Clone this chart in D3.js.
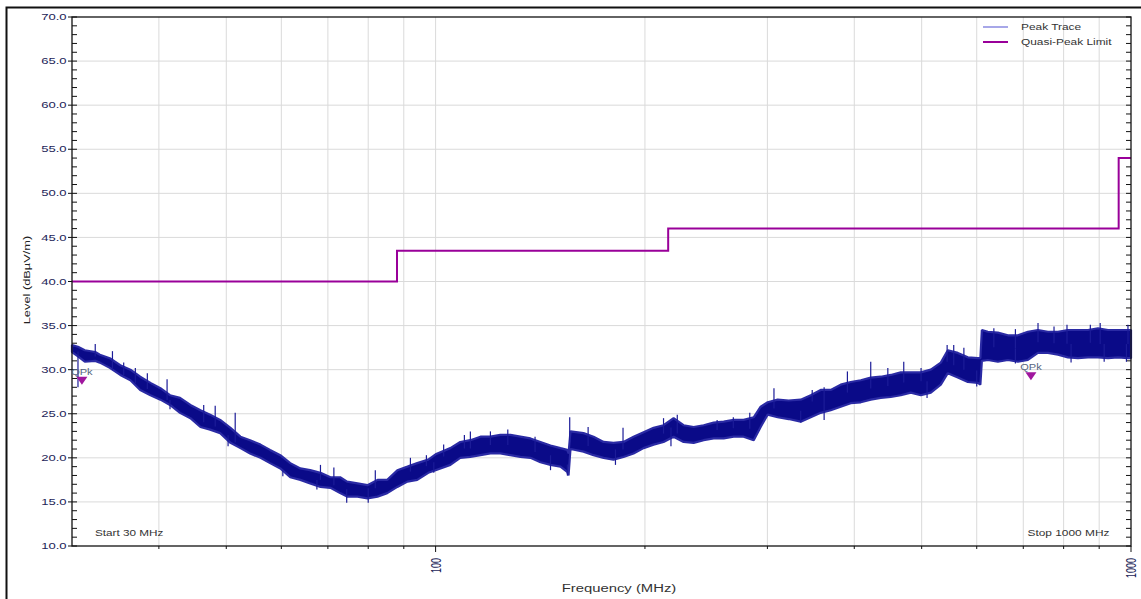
<!DOCTYPE html>
<html><head><meta charset="utf-8">
<script src="https://cdn.jsdelivr.net/npm/d3@7"></script>
<style>html,body{margin:0;padding:0;background:#fff;}svg{display:block;}</style>
</head><body>
<svg id="chart" width="1141" height="599"></svg>
<script>
// ---------- data ----------
const yTicks = [10,15,20,25,30,35,40,45,50,55,60,65,70];
const xGridFreqs = [40,50,60,70,80,90,100,200,300,400,500,600,700,800,900,1000];
const xLabelFreqs = [100,1000];
// [frequency MHz, upper envelope dBµV/m, lower envelope dBµV/m]
const peakTrace = [
 [30,32.8,32.0],[30.6,32.6,31.5],[31.3,32.2,30.9],[32.4,32.0,31.0],[32.9,31.7,30.8],
 [34.0,31.3,30.2],[35.2,30.5,29.4],[36.4,30.0,28.8],[37.6,29.2,27.7],[38.9,28.5,27.1],
 [40.2,27.9,26.6],[41.5,27.1,26.0],[42.9,26.8,25.1],[44.4,26.0,24.5],[45.9,25.4,23.5],
 [47.4,24.9,23.2],[49.0,24.3,22.8],[50.7,23.4,21.7],[52.4,22.4,21.1],[54.1,22.0,20.5],
 [56.0,21.5,20.0],[57.8,20.9,19.4],[59.8,20.3,18.8],[61.8,19.4,17.8],[63.9,18.8,17.5],
 [66.0,18.6,17.1],[68.3,18.3,16.7],[70.6,17.8,16.6],[72.9,17.8,16.0],[74.6,17.3,15.6],
 [77.2,17.1,15.6],[79.8,16.9,15.4],[82.5,17.5,15.6],[85.2,17.5,16.0],[88.1,18.6,16.7],
 [91.1,19.0,17.3],[94.1,19.4,17.5],[97.6,19.8,18.3],[100,20.4,18.6],[105,21.1,19.2],
 [108.5,21.8,20.0],[112.2,22.0,20.1],[116,22.4,20.3],[119.9,22.4,20.5],[123.9,22.6,20.5],
 [128.1,22.6,20.3],[132.4,22.4,20.1],[136.9,22.2,20.0],[141.5,21.8,19.5],[146.3,21.4,19.2],
 [151.2,21.1,19.0],[154.6,20.9,18.4],[155.3,20.5,18.0],[156.3,23.0,21.0],[163.2,22.8,20.7],
 [168.7,22.4,20.3],[174.4,21.8,20.0],[180.2,21.7,19.8],[186.3,21.8,20.1],[192.6,22.4,20.5],
 [199.1,22.9,21.1],[205.8,23.4,21.5],[212.7,23.7,21.8],[219.9,24.5,22.4],[227.3,23.7,21.8],
 [235,23.5,21.7],[242.9,23.7,22.0],[251.1,24.0,22.2],[259.6,24.1,22.2],[268.3,24.3,22.4],
 [277.3,24.3,22.4],[286.7,24.6,22.0],[293.4,25.8,23.5],[300.3,26.3,24.9],[310.4,26.6,24.6],
 [321.9,26.5,24.4],[335,26.6,24.1],[346.3,27.1,24.6],[357.9,27.7,25.1],[370,27.7,25.4],
 [382.4,28.3,25.8],[395.3,28.6,26.2],[408.7,28.8,26.3],[422.4,29.1,26.6],[436.7,29.2,26.8],
 [451.4,29.4,26.9],[466.6,29.7,27.1],[482.3,29.7,27.4],[498.6,29.7,27.1],[515.4,30.0,27.4],
 [532.7,30.8,28.3],[545.2,32.2,29.6],[563.6,31.9,29.1],[582.6,31.4,28.6],[602.2,31.3,28.5],
 [607.3,31.3,28.3],[610.3,34.5,31.0],[622.5,34.3,31.1],[643.5,34.2,30.9],[665.2,33.9,31.1],
 [687.6,33.9,30.9],[710.8,34.3,31.1],[734.7,34.5,31.9],[759.5,34.3,31.9],[785.1,34.3,31.7],
 [811.5,34.5,31.4],[838.9,34.5,31.3],[867.2,34.5,31.4],[896.4,34.7,31.4],[926.6,34.5,31.3],
 [957.8,34.5,31.4],[990.1,34.5,31.3],[1000,34.5,31.3]
];
// isolated upward spikes of the peak trace [frequency MHz, level]
const upSpikes = [
 [32.4,32.9],[34.3,32.1],[35.6,30.8],[37.0,30.2],[38.5,29.6],[41.1,28.9],[46.4,26.0],
 [48.2,25.9],[51.5,25.1],[68.3,19.2],[71.4,18.9],[81.9,18.6],[92.0,20.0],[97.0,20.3],
 [102.7,21.5],[110,22.6],[112.2,23.0],[119.9,23.0],[127,23.2],[139,22.4],[155.9,24.6],
 [165.7,23.5],[186,23.4],[212.7,24.5],[222.6,24.9],[254,24.3],[268,24.6],[283,25.1],
 [306.6,27.9],[348,27.7],[362,28.0],[391.0,29.8],[422.4,30.9],[447,30.2],[471.2,30.9],
 [499,30.2],[544,32.8],[556,32.8],[575,32.5],[635,34.7],[682,34.6],[735,35.3],[775,34.9],
 [809,35.1],[874,35.1],[903,35.3],[990,35.1]
];
// isolated downward spikes of the peak trace [frequency MHz, level]
const downSpikes = [
 [30.6,28.0],[41.5,25.5],[50.3,21.3],[60.3,17.9],[67.5,16.4],[74.5,14.9],[80.0,14.9],
 [99.4,18.3],[146.3,18.6],[154.7,18.0],[181.4,19.2],[218,21.3],[335,24.0],[362,24.3],
 [509,26.8],[600,28.1],[682,30.7],[820,30.8],[915,30.9],[985,30.9]
];
// quasi-peak limit steps [start frequency, level]
const limitSteps = [[30,40],[88,43.5],[216,46],[960,54],[1000,54]];
// quasi-peak measurement markers [frequency, level]
const qpkMarkers = [[31.0,28.3],[718,28.8]];
const legendItems = ["Peak Trace","Quasi-Peak Limit"];

// ---------- drawing ----------
const svg = d3.select("#chart");
const L = 72, R = 1131, T = 17, B = 546;
const x = d3.scaleLog().domain([30,1000]).range([L,R]);
const y = d3.scaleLinear().domain([10,70]).range([B,T]);
const FONT = "'Liberation Sans', Arial, sans-serif";

function label(px, py, str, opt){
  const g = svg.append("g").attr("transform",
    `translate(${px},${py})` + (opt.pre||"") + ` scale(${opt.sx||1},1)` + (opt.post||""));
  const t = g.append("text").text(str)
    .attr("font-family",FONT).attr("font-size",opt.size||9)
    .attr("fill",opt.fill||"#333").attr("text-anchor",opt.anchor||"start");
  if (opt.dy) t.attr("dy",opt.dy);
  return t;
}

// outer frame
svg.append("path").attr("d","M6.5,599 V7.5 H1141").attr("fill","none")
  .attr("stroke","#111").attr("stroke-width",2);

// grid
const grid = svg.append("g").attr("stroke","#dadada").attr("stroke-width",1);
grid.selectAll("line.h").data(yTicks.filter(v=>v>10&&v<70)).join("line").attr("class","h")
  .attr("x1",L).attr("x2",R).attr("y1",d=>y(d)).attr("y2",d=>y(d));
grid.selectAll("line.v").data(xGridFreqs.filter(f=>f<1000)).join("line").attr("class","v")
  .attr("y1",T).attr("y2",B).attr("x1",d=>x(d)).attr("x2",d=>x(d));

// minor y ticks (every 1 dB) inside left and right axes
const minorY = d3.range(10,70.01,1);
svg.append("g").attr("stroke","#111").selectAll("line").data(minorY).join("line")
  .attr("x1",L).attr("x2",L+5).attr("y1",d=>y(d)).attr("y2",d=>y(d));
svg.append("g").attr("stroke","#111").selectAll("line").data(minorY).join("line")
  .attr("x1",R-5).attr("x2",R).attr("y1",d=>y(d)).attr("y2",d=>y(d));
// major y ticks outward
svg.append("g").attr("stroke","#111").selectAll("line").data(yTicks).join("line")
  .attr("x1",L-4).attr("x2",L).attr("y1",d=>y(d)).attr("y2",d=>y(d));
// x ticks
svg.append("g").attr("stroke","#111").selectAll("line").data(xGridFreqs).join("line")
  .attr("x1",d=>x(d)).attr("x2",d=>x(d)).attr("y1",B)
  .attr("y2",d=>xLabelFreqs.includes(d)?B+6:B+3);

// limit line
const limLine = d3.line().x(d=>x(d[0])).y(d=>y(d[1])).curve(d3.curveStepAfter);
svg.append("path").datum(limitSteps).attr("d",limLine).attr("fill","none")
  .attr("stroke","#990099").attr("stroke-width",2);

// peak trace band
const area = d3.area().x(d=>x(d[0])).y0(d=>y(d[2])).y1(d=>y(d[1]));
svg.append("path").datum(peakTrace).attr("d",area).attr("fill","#0a0a88")
  .attr("stroke","#2a2aa4").attr("stroke-width",2.2).attr("stroke-linejoin","bevel");
// spikes
const bis = d3.bisector(d=>d[0]).left;
function mid(f){const r=peakTrace[Math.min(bis(peakTrace,f),peakTrace.length-1)];return (r[1]+r[2])/2;}
const spikeG = svg.append("g").attr("stroke","#1c1c98").attr("stroke-width",1.2);
spikeG.selectAll("line.u").data(upSpikes).join("line").attr("class","u")
  .attr("x1",d=>x(d[0])).attr("x2",d=>x(d[0])).attr("y1",d=>y(mid(d[0]))).attr("y2",d=>y(d[1]));
spikeG.selectAll("line.d").data(downSpikes).join("line").attr("class","d")
  .attr("x1",d=>x(d[0])).attr("x2",d=>x(d[0])).attr("y1",d=>y(mid(d[0]))).attr("y2",d=>y(d[1]));

// axes frame
svg.append("rect").attr("x",L).attr("y",T).attr("width",R-L).attr("height",B-T)
  .attr("fill","none").attr("stroke","#111").attr("stroke-width",1.3);

// QPk markers
qpkMarkers.forEach(m=>{
  const mx = x(m[0]), my = y(m[1]);
  svg.append("path").attr("d",`M${mx-5.5},${my-8} L${mx+5.5},${my-8} L${mx},${my} Z`)
    .attr("fill","#a0169e");
  label(mx, my-10, "QPk", {size:8.5, sx:1.3, anchor:"middle", fill:"#55657e"});
});

// y tick labels
yTicks.forEach(v=>label(66.5, y(v), v.toFixed(1), {size:9, sx:1.45, anchor:"end", dy:"0.35em", fill:"#1c2458"}));
// x tick labels
xLabelFreqs.forEach(f=>label(x(f), 558, String(f), {size:9, sx:1.6, post:" rotate(-90)", anchor:"end", dy:"0.35em", fill:"#1c2458"}));

// titles
label(27, 280, "Level (dBµV/m)", {size:9.5, pre:" rotate(-90)", sx:1.35, anchor:"middle", dy:"0.35em", fill:"#222"});
label(619, 592, "Frequency (MHz)", {size:11, sx:1.35, anchor:"middle", fill:"#333"});
label(95, 536, "Start 30 MHz", {size:8.5, sx:1.38, fill:"#333"});
label(1027.5, 536, "Stop 1000 MHz", {size:8.5, sx:1.4, fill:"#333"});

// legend
const legColors = ["#8a8ae0","#990099"], legW = [1.5,2];
legendItems.forEach((s,i)=>{
  const ly = 27 + i*15;
  svg.append("line").attr("x1",983).attr("x2",1008).attr("y1",ly).attr("y2",ly)
    .attr("stroke",legColors[i]).attr("stroke-width",legW[i]);
  label(1021, ly, s, {size:8.5, sx:1.4, dy:"0.35em", fill:"#333"});
});
</script>
</body></html>
